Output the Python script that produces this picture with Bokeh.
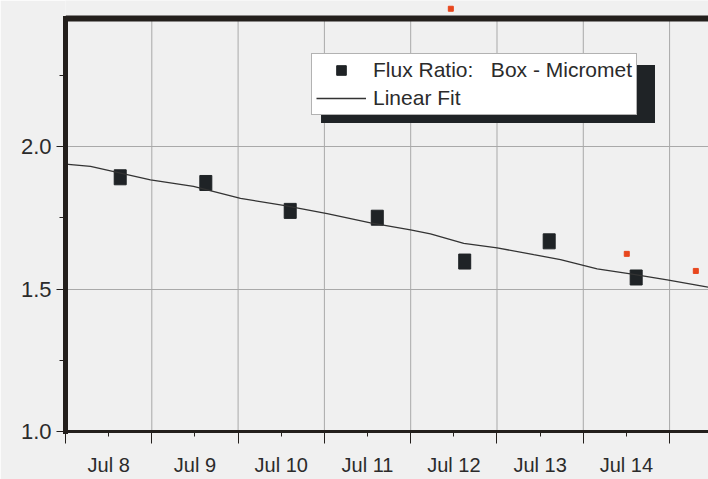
from bokeh.plotting import figure
from bokeh.models import FixedTicker, Legend, LegendItem, BoxAnnotation, Span, PrintfTickFormatter
from bokeh.embed import file_html
from bokeh.resources import INLINE

# ---- data (x in days from Jul 8 00:00) ----
day_labels = ["Jul 8", "Jul 9", "Jul 10", "Jul 11", "Jul 12", "Jul 13", "Jul 14"]
label_pos = [0.5, 1.5, 2.5, 3.5, 4.5, 5.5, 6.5]
midnights = [0, 1, 2, 3, 4, 5, 6, 7]

flux_day = [0.634, 1.626, 2.604, 3.613, 4.626, 5.605, 6.613]
flux_ratio = [1.893, 1.873, 1.775, 1.751, 1.597, 1.668, 1.541]

fit_day = [0.0, 0.290, 0.985, 1.483, 2.028, 2.526, 3.032, 3.534, 3.998, 4.229,
           4.615, 5.002, 5.426, 5.736, 6.161, 6.547, 6.972, 7.396, 7.451]
fit_ratio = [1.939, 1.931, 1.884, 1.861, 1.819, 1.794, 1.765, 1.733, 1.708, 1.694,
             1.661, 1.645, 1.621, 1.604, 1.571, 1.554, 1.533, 1.510, 1.507]

extra_day = [4.465, 6.504, 7.304]
extra_ratio = [2.485, 1.624, 1.564]

y_major = [1.0, 1.5, 2.0]
y_minor = [1.25, 1.75, 2.25]
y_top_border = 2.451

BG = "#f0f0f0"
INK = "#231f1c"
MARK = "#1f2326"
GRID = "#a9a9a9"
FONT = "Liberation Sans"

p = figure(width=708, height=479, x_range=(0, 7.451), y_range=(1.0, 2.514),
           output_backend="svg", toolbar_location=None,
           min_border_left=65, min_border_right=0, min_border_top=0, min_border_bottom=48)
p.background_fill_color = BG
p.border_fill_color = BG
p.outline_line_color = None

# grids
p.xgrid.visible = False
p.ygrid.ticker = FixedTicker(ticks=y_major[1:])
p.ygrid.grid_line_color = GRID
p.ygrid.grid_line_width = 1
p.segment(x0=midnights[1:], y0=y_major[0], x1=midnights[1:], y1=y_top_border,
          line_color=GRID, line_width=1)

# axes
xa = p.xaxis[0]
xa.ticker = FixedTicker(ticks=label_pos, minor_ticks=midnights)
xa.major_label_overrides = dict(zip(label_pos, day_labels))
xa.axis_line_color = INK
xa.axis_line_width = 3
xa.major_tick_in = 0
xa.major_tick_out = 5
xa.minor_tick_in = 0
xa.minor_tick_out = 12
xa.major_tick_line_color = INK
xa.minor_tick_line_color = INK
xa.major_label_standoff = 10
xa.major_label_text_font = FONT
xa.major_label_text_font_size = "20px"
xa.major_label_text_color = "#2b2b2b"

ya = p.yaxis[0]
ya.ticker = FixedTicker(ticks=y_major, minor_ticks=y_minor)
ya.formatter = PrintfTickFormatter(format="%.1f")
ya.bounds = (y_major[0], y_top_border)
ya.axis_line_color = INK
ya.axis_line_width = 5
ya.axis_line_cap = "square"
ya.major_tick_in = 0
ya.major_tick_out = 9
ya.minor_tick_in = 0
ya.minor_tick_out = 6
ya.major_tick_line_color = INK
ya.minor_tick_line_color = INK
ya.major_label_standoff = 5
ya.major_label_text_font = FONT
ya.major_label_text_font_size = "22px"
ya.major_label_text_color = "#2b2b2b"

# top border
p.add_layout(Span(location=y_top_border, dimension="width", line_color=INK, line_width=6))

# data
sq = p.scatter(flux_day, flux_ratio, marker="square", size=10, color=MARK)
p.rect(flux_day, flux_ratio, width=12, height=15, width_units="screen",
       height_units="screen", color=MARK)
fit = p.line(fit_day, fit_ratio, line_color="#333333", line_width=1.3)
p.scatter(extra_day, extra_ratio, marker="square", size=5, color="#e8471e")

# legend shadow + legend
shadow = BoxAnnotation(left=2.961, right=6.831, bottom=2.0836, top=2.287,
                       fill_color=MARK, fill_alpha=1.0, line_color=None)
p.add_layout(shadow)

legend = Legend(items=[
    LegendItem(label="Flux Ratio:\u00a0\u00a0 Box - Micromet", renderers=[sq]),
    LegendItem(label="Linear Fit", renderers=[fit]),
], location=(246, 316))
legend.background_fill_color = "white"
legend.background_fill_alpha = 1.0
legend.border_line_color = "#666666"
legend.border_line_width = 1
legend.padding = 4
legend.spacing = 4
legend.margin = 0
legend.glyph_width = 50
legend.glyph_height = 24
legend.label_height = 24
legend.label_standoff = 7
legend.label_text_font = FONT
legend.label_text_font_size = "21px"
legend.label_text_color = "#2b2b2b"
p.add_layout(legend)

open("out.html", "w").write(file_html(p, INLINE))
